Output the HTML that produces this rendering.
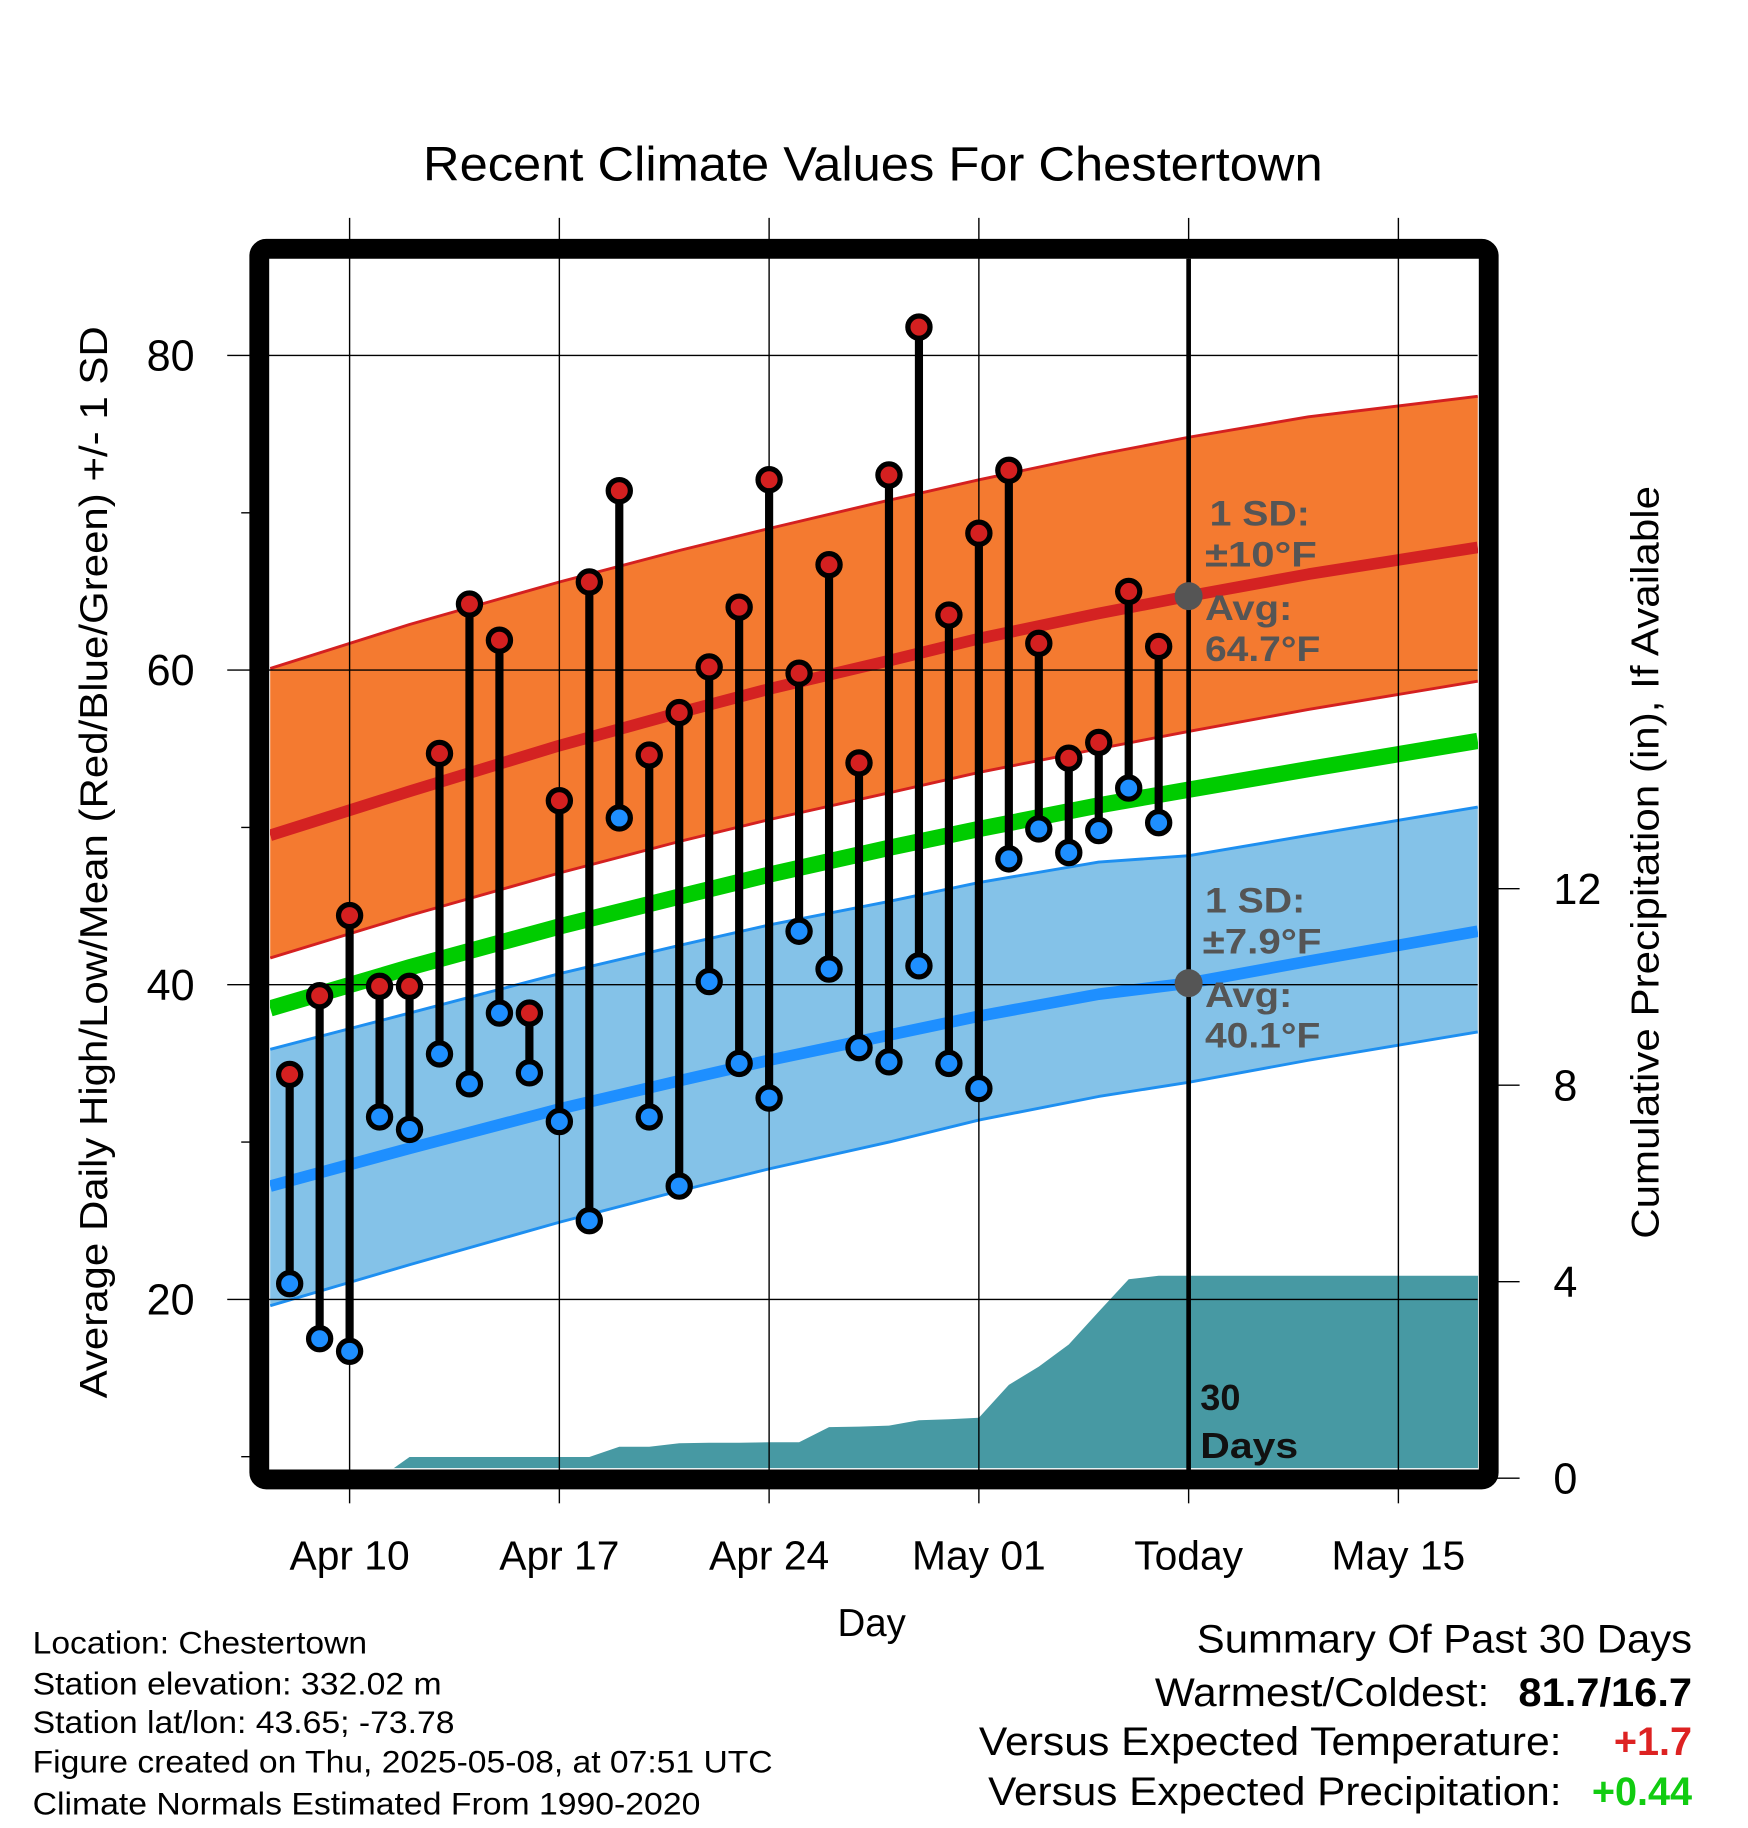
<!DOCTYPE html>
<html><head><meta charset="utf-8"><style>
html,body{margin:0;padding:0;background:#fff}
svg{display:block}
text{font-family:"Liberation Sans",Arial,sans-serif}
</style></head><body>
<svg id="chart" width="1748" height="1828" viewBox="0 0 1500 1568.6" preserveAspectRatio="none" xmlns="http://www.w3.org/2000/svg">
<defs><clipPath id="plotclip"><rect x="231.7" y="223" width="1036.6" height="1036.8"/></clipPath></defs>
<g id="bands" clip-path="url(#plotclip)"></g>
<g id="grid"></g>
<g id="marks"></g>
<rect x="222.5" y="213.5" width="1055" height="1056" rx="6" fill="none" stroke="#000" stroke-width="17"/>
<g id="axes"></g>
<text x="749" y="155" font-size="41" text-anchor="middle" textLength="772" lengthAdjust="spacingAndGlyphs">Recent Climate Values For Chestertown</text>
<text transform="translate(92,740) rotate(-90)" font-size="33" text-anchor="middle" textLength="920" lengthAdjust="spacingAndGlyphs">Average Daily High/Low/Mean (Red/Blue/Green) +/- 1 SD</text>
<text transform="translate(1423,740) rotate(-90)" font-size="33" text-anchor="middle" textLength="646" lengthAdjust="spacingAndGlyphs">Cumulative Precipitation (in), If Available</text>
<text x="748" y="1404" font-size="33" text-anchor="middle">Day</text>
<g font-size="30" font-weight="bold" fill="#555">
<text x="1038" y="451" textLength="86" lengthAdjust="spacingAndGlyphs">1 SD:</text><text x="1034" y="486" textLength="96" lengthAdjust="spacingAndGlyphs">±10°F</text><text x="1034" y="532" textLength="75" lengthAdjust="spacingAndGlyphs">Avg:</text><text x="1034" y="567" textLength="99" lengthAdjust="spacingAndGlyphs">64.7°F</text></g>
<g font-size="30" font-weight="bold" fill="#555">
<text x="1034" y="783" textLength="86" lengthAdjust="spacingAndGlyphs">1 SD:</text><text x="1032" y="818" textLength="102" lengthAdjust="spacingAndGlyphs">±7.9°F</text><text x="1034" y="864" textLength="75" lengthAdjust="spacingAndGlyphs">Avg:</text><text x="1034" y="899" textLength="99" lengthAdjust="spacingAndGlyphs">40.1°F</text></g>
<g font-size="31" font-weight="bold" fill="#111"><text x="1030" y="1210">30</text><text x="1030" y="1251" textLength="84" lengthAdjust="spacingAndGlyphs">Days</text></g>
<g font-size="27">
<text x="28" y="1419" textLength="287" lengthAdjust="spacingAndGlyphs">Location: Chestertown</text>
<text x="28" y="1454" textLength="351" lengthAdjust="spacingAndGlyphs">Station elevation: 332.02 m</text>
<text x="28" y="1487" textLength="362" lengthAdjust="spacingAndGlyphs">Station lat/lon: 43.65; -73.78</text>
<text x="28" y="1521" textLength="635" lengthAdjust="spacingAndGlyphs">Figure created on Thu, 2025-05-08, at 07:51 UTC</text>
<text x="28" y="1557" textLength="573" lengthAdjust="spacingAndGlyphs">Climate Normals Estimated From 1990-2020</text></g>
<g font-size="34">
<text x="1452" y="1418" text-anchor="end" textLength="425" lengthAdjust="spacingAndGlyphs">Summary Of Past 30 Days</text>
<text x="1278" y="1464" text-anchor="end" textLength="287" lengthAdjust="spacingAndGlyphs">Warmest/Coldest:</text>
<text x="1452" y="1464" text-anchor="end" font-weight="bold" textLength="149" lengthAdjust="spacingAndGlyphs">81.7/16.7</text>
<text x="1340" y="1506" text-anchor="end" textLength="500" lengthAdjust="spacingAndGlyphs">Versus Expected Temperature:</text>
<text x="1452" y="1506" text-anchor="end" font-weight="bold" fill="#d22">+1.7</text>
<text x="1340" y="1549" text-anchor="end" textLength="492" lengthAdjust="spacingAndGlyphs">Versus Expected Precipitation:</text>
<text x="1452" y="1549" text-anchor="end" font-weight="bold" fill="#1c1">+0.44</text></g>
</svg>
<script>
const obsDays=[-2,-1,0,1,2,3,4,5,6,7,8,9,10,11,12,13,14,15,16,17,18,19,20,21,22,23,24,25,26,27];
const highs=[34.3,39.3,44.4,39.9,39.9,54.7,64.2,61.9,38.2,51.7,65.6,71.4,54.6,57.3,60.2,64.0,72.1,59.8,66.7,54.1,72.4,81.8,63.5,68.7,72.7,61.7,54.4,55.4,65.0,61.5];
const lows=[21.0,17.5,16.7,31.6,30.8,35.6,33.7,38.2,34.4,31.3,25.0,50.6,31.6,27.2,40.2,35.0,32.8,43.4,41.0,36.0,35.1,41.2,35.0,33.4,48.0,49.9,48.4,49.8,52.5,50.3];
const precip=[0,0,0,0,0.43,0.43,0.43,0.43,0.43,0.43,0.43,0.64,0.64,0.71,0.72,0.72,0.73,0.73,1.04,1.05,1.07,1.18,1.2,1.23,1.90,2.27,2.72,3.39,4.05,4.12];
const normDays=[-2.65,2,7,11,14,18,21,25,28,32,37.65];
const normHigh=[49.5,52.3,55.2,57.3,58.8,60.6,62.0,63.6,64.7,66.1,67.8];
const normHighUp=[60.1,62.9,65.6,67.6,69.0,70.8,72.1,73.7,74.8,76.1,77.4];
const normHighLo=[41.7,44.4,47.1,49.1,50.5,52.2,53.5,55.0,56.1,57.5,59.3];
const normMean=[38.5,41.1,43.7,45.6,47.0,48.7,49.9,51.4,52.4,53.7,55.5];
const normLow=[27.2,29.6,32.1,33.9,35.2,36.8,38.0,39.4,40.1,41.5,43.4];
const normLowUp=[35.9,38.2,40.7,42.5,43.8,45.3,46.5,47.8,48.2,49.5,51.3];
const normLowLo=[19.6,22.2,24.9,26.9,28.3,30.0,31.4,32.9,33.8,35.2,37.0];
const yTicks=[20,40,60,80];
const yMinor=[10,30,50,70];
const pTicks=[0,4,8,12];
const xTickDays=[0,7,14,21,28,35];
const xTickLabels=["Apr 10","Apr 17","Apr 24","May 01","Today","May 15"];
const todayDay=28;

const X=d=>300+d*25.714;
const Y=v=>305+(80-v)*13.5;
const P=p=>1268.4-p*42.15;
const NS="http://www.w3.org/2000/svg";
function mk(tag,attrs,parent){const e=document.createElementNS(NS,tag);for(const k in attrs)e.setAttribute(k,attrs[k]);parent.appendChild(e);return e;}
const bands=document.getElementById('bands'),grid=document.getElementById('grid'),marks=document.getElementById('marks'),axes=document.getElementById('axes');
const line=arr=>normDays.map((d,i)=>X(d).toFixed(1)+','+Y(arr[i]).toFixed(1)).join(' ');
const band=(up,lo)=>normDays.map((d,i)=>X(d)+','+Y(up[i])).concat(normDays.slice().reverse().map((d,i)=>X(d)+','+Y(lo[lo.length-1-i]))).join(' ');

let e;
e=mk('polygon',{points:band(normHighUp,normHighLo),fill:'#f47a30'},bands);

e=mk('polygon',{points:band(normLowUp,normLowLo),fill:'#84c2e8'},bands);

let pts=[X(obsDays[3])+','+P(0)];
obsDays.forEach((d,i)=>{if(i>=3)pts.push(X(d)+','+P(precip[i]));});
pts.push(X(40)+','+P(precip[precip.length-1]));pts.push(X(40)+','+P(0));
e=mk('polygon',{points:pts.join(' '),fill:'#4799a3'},bands);

[[normHighUp,'#d42020',2.5],[normHighLo,'#d42020',2.5],[normLowUp,'#1e8ff0',2.5],[normLowLo,'#1e8ff0',2.5],[normHigh,'#d42222',10],[normMean,'#00cc00',14],[normLow,'#1e8fff',10]].forEach((s,i)=>{
 e=mk('polyline',{points:line(s[0]),fill:'none',stroke:s[1],'stroke-width':s[2],'stroke-linejoin':'round'},bands);
 
});
yTicks.forEach(v=>{
 e=mk('line',{x1:195,x2:1268,y1:Y(v),y2:Y(v),stroke:'#000','stroke-width':1.2},grid);
 
 e=mk('text',{x:167,y:Y(v)+13,'font-size':37,'text-anchor':'end'},axes);e.textContent=v;
 
});
yMinor.forEach(v=>{
 e=mk('line',{x1:207,x2:222,y1:Y(v),y2:Y(v),stroke:'#000','stroke-width':1.2},axes);
 
});
xTickDays.forEach((d,i)=>{
 if(d!==todayDay){
 e=mk('line',{x1:X(d),x2:X(d),y1:187,y2:1268,stroke:'#000','stroke-width':1.2},grid);
 }
 else{
 e=mk('line',{x1:X(d),x2:X(d),y1:222,y2:1262,stroke:'#000','stroke-width':4},grid);
 
 e=mk('line',{x1:X(d),x2:X(d),y1:187,y2:222,stroke:'#000','stroke-width':1.2},grid);
 }
 e=mk('line',{x1:X(d),x2:X(d),y1:1270,y2:1290,stroke:'#000','stroke-width':1.2},axes);
 
 e=mk('text',{x:X(d),y:1347,'font-size':35,'text-anchor':'middle'},axes);e.textContent=xTickLabels[i];
 
});
pTicks.forEach(p=>{
 e=mk('line',{x1:1282,x2:1304,y1:P(p),y2:P(p),stroke:'#000','stroke-width':1.2},axes);
 
 e=mk('text',{x:1333,y:P(p)+13,'font-size':37,'text-anchor':'start'},axes);e.textContent=p;
 
});
e=mk('circle',{cx:X(todayDay),cy:Y(64.7),r:12,fill:'#555'},grid);

e=mk('circle',{cx:X(todayDay),cy:Y(40.1),r:12,fill:'#555'},grid);

obsDays.forEach((d,i)=>{
 e=mk('line',{x1:X(d),x2:X(d),y1:Y(highs[i]),y2:Y(lows[i]),stroke:'#000','stroke-width':7},marks);
 
 e=mk('circle',{cx:X(d),cy:Y(highs[i]),r:9.5,fill:'#d42020',stroke:'#000','stroke-width':4.5},marks);
 
 e=mk('circle',{cx:X(d),cy:Y(lows[i]),r:9.5,fill:'#1e8fff',stroke:'#000','stroke-width':4.5},marks);
 
});
</script>
</body></html>
